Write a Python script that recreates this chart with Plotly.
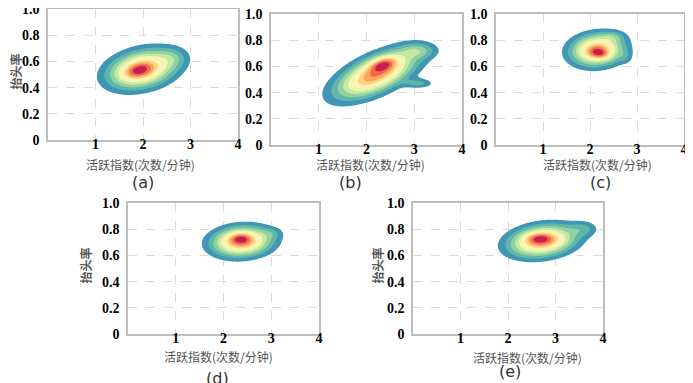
import numpy as np
import plotly.graph_objects as go

# ---- data: Gaussian-mixture description of each panel's density (x = activity index, y = head-up rate)
# columns: mean_x, mean_y, sd_x, sd_y, rho, weight
panel_a = [[1.98, 0.540, 0.47, 0.097, 0.28, 1.00],
           [1.90, 0.530, 0.20, 0.040, 0.30, 0.30],
           [2.65, 0.630, 0.20, 0.050, 0.00, 0.15]]
panel_b = [[2.20, 0.540, 0.55, 0.120, 0.62, 1.00],
           [2.35, 0.620, 0.20, 0.040, 0.40, 0.40],
           [3.10, 0.720, 0.25, 0.040, 0.00, 0.25],
           [3.10, 0.470, 0.20, 0.025, 0.00, 0.25]]
panel_c = [[2.15, 0.725, 0.37, 0.080, 0.10, 1.00],
           [2.20, 0.700, 0.15, 0.030, -0.20, 0.35],
           [2.50, 0.830, 0.18, 0.030, 0.00, 0.15],
           [2.75, 0.670, 0.10, 0.035, 0.00, 0.12]]
panel_d = [[2.38, 0.705, 0.41, 0.075, 0.10, 1.00],
           [2.35, 0.730, 0.16, 0.030, 0.00, 0.30],
           [3.02, 0.770, 0.15, 0.030, 0.00, 0.12]]
panel_e = [[2.72, 0.710, 0.46, 0.080, 0.22, 1.00],
           [2.65, 0.730, 0.20, 0.030, 0.00, 0.30],
           [3.60, 0.805, 0.20, 0.040, 0.00, 0.20]]

panels = [panel_a, panel_b, panel_c, panel_d, panel_e]
panel_labels = ["(a)", "(b)", "(c)", "(d)", "(e)"]
x_ticks = [1, 2, 3, 4]
y_ticks = [0, 0.2, 0.4, 0.6, 0.8, 1.0]
y_ticktext = ["0", "0.2", "0.4", "0.6", "0.8", "1.0"]
x_title = "活跃指数(次数/分钟)"
y_title = "抬头率"

band_colors = ["#3f96b5", "#5fb6a9", "#92d1a4", "#c7e8a0", "#edf6b2",
               "#fff3b4", "#fdd486", "#fba45f", "#ef6849", "#c41f50"]

W, H = 693, 383
OFF = 8  # the page's body margin shifts the figure by this many pixels
# plot rectangles in screen pixels: x0, x1, y0(top), y1(bottom)
rects = [(48, 238, 9, 140), (271, 462, 14, 145), (496, 684, 14, 145),
         (128, 319, 203, 334), (413, 603, 203, 334)]
ytitle_x = [15, None, None, 85, 377]
xtitle_pos = [(140, 164), (370, 164), (597, 164), (218, 356), (527, 357)]
label_pos = [(143, 183), (350, 183), (600, 183), (217, 378), (510, 371)]

gx = np.linspace(0, 4, 241)
gy = np.linspace(0, 1, 241)
X, Y = np.meshgrid(gx, gy)


def density(comps):
    Z = np.zeros_like(X)
    for mx, my, sx, sy, r, w in comps:
        dx = (X - mx) / sx
        dy = (Y - my) / sy
        q = (dx * dx - 2 * r * dx * dy + dy * dy) / (1 - r * r)
        Z += w * np.exp(-0.5 * q)
    return Z / Z.max()


def px(x):
    return (x - OFF) / W


def py(y):
    return 1 - (y - OFF) / H


nlev = len(band_colors)
start, size = 0.1, 0.09
nb = nlev + 1
cols = ["rgba(255,255,255,0)"] + band_colors
cscale = []
for i, c in enumerate(cols):
    cscale.append([i / nb, c])
    cscale.append([(i + 1) / nb, c])

tickfont = dict(family="Liberation Serif, DejaVu Serif, serif", size=14,
                color="black", weight="bold")
fig = go.Figure()
layout = dict(width=W, height=H, margin=dict(l=0, r=0, t=0, b=0),
              paper_bgcolor="white", plot_bgcolor="white", showlegend=False)
annotations = []

for k, comps in enumerate(panels):
    sfx = "" if k == 0 else str(k + 1)
    x0, x1, yt, yb = rects[k]
    Z = density(comps)
    fig.add_trace(go.Contour(
        x=gx, y=gy, z=Z, xaxis="x" + sfx, yaxis="y" + sfx,
        colorscale=cscale, showscale=False, hoverinfo="skip",
        contours=dict(start=start, end=start + size * (nlev - 1), size=size,
                      coloring="fill", showlines=False),
        line=dict(width=0, smoothing=1.0)))
    axstyle = dict(showline=True, mirror=True, linecolor="#bdbdbd", linewidth=1.5,
                   showgrid=True, gridcolor="#dcdcdc", griddash="dash", gridwidth=1,
                   zeroline=False, ticks="", tickfont=tickfont, automargin=False,
                   ticklabeloverflow="allow")
    layout["xaxis" + sfx] = dict(axstyle, domain=[px(x0), px(x1)], range=[0, 4],
                                 tickvals=x_ticks, anchor="y" + sfx, ticklabelstandoff=-10)
    layout["yaxis" + sfx] = dict(axstyle, domain=[py(yb), py(yt)], range=[0, 1],
                                 tickvals=y_ticks, ticktext=y_ticktext, anchor="x" + sfx,
                                 ticklabelstandoff=4)
    tx, ty = xtitle_pos[k]
    annotations.append(dict(text=x_title, x=px(tx), y=py(ty), xanchor="center", yanchor="middle",
                            xref="paper", yref="paper", showarrow=False,
                            font=dict(family="Noto Sans CJK SC", size=12, color="#555555")))
    lx, ly = label_pos[k]
    annotations.append(dict(text=panel_labels[k], x=px(lx), y=py(ly), xanchor="center",
                            yanchor="middle", xref="paper", yref="paper", showarrow=False,
                            font=dict(family="DejaVu Sans", size=16, color="#333333")))
    if ytitle_x[k] is not None:
        annotations.append(dict(text=y_title, x=px(ytitle_x[k]), y=py((yt + yb) / 2 - 3),
                                xanchor="center", yanchor="middle",
                                xref="paper", yref="paper", showarrow=False, textangle=-90,
                                font=dict(family="Noto Sans CJK SC", size=12, color="#555555",
                                          weight="bold")))

layout["annotations"] = annotations
fig.update_layout(**layout)
fig.write_html("out.html")
